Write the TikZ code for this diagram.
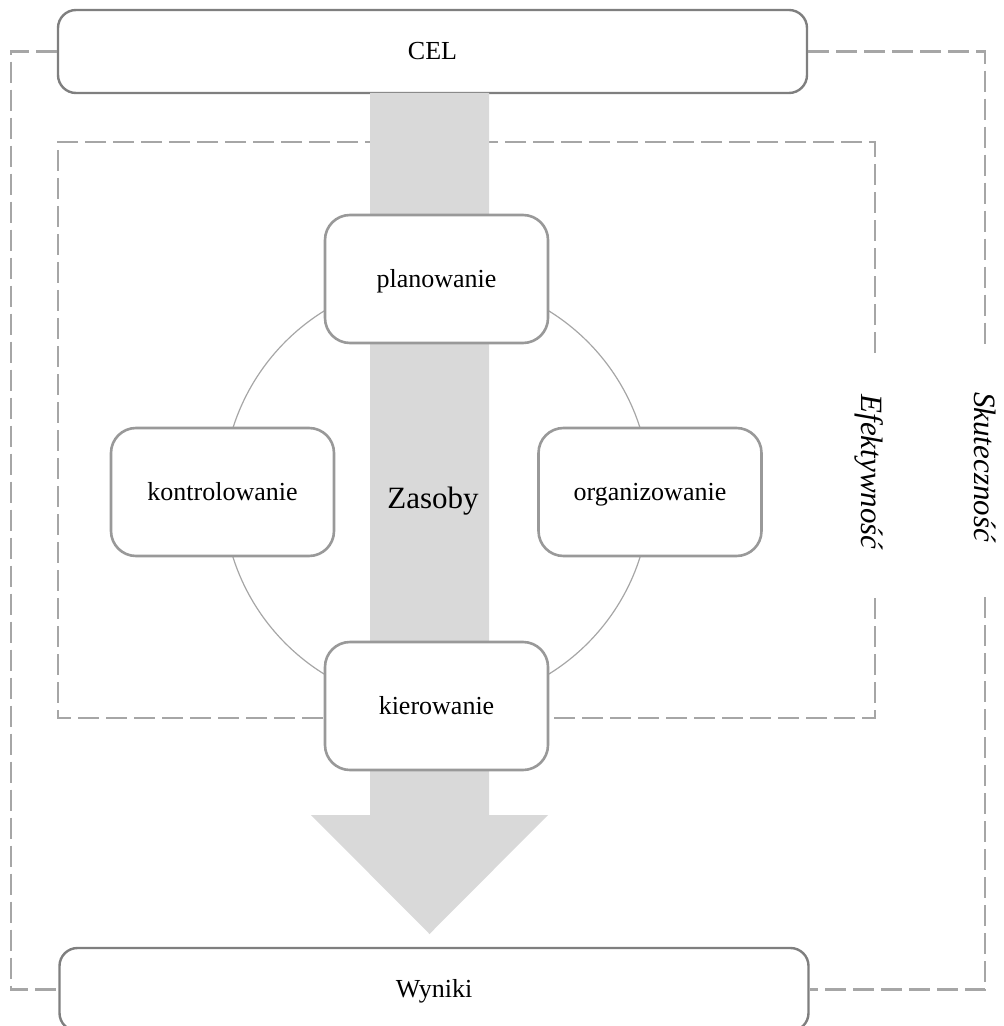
\documentclass[tikz,border=0pt]{standalone}
\usepackage{fontspec}
\setmainfont{Liberation Serif}
\definecolor{boxline}{HTML}{7F7F7F}
\definecolor{stageline}{HTML}{999999}
\definecolor{dashline}{HTML}{A6A6A6}
\definecolor{ringline}{HTML}{A6A6A6}
\definecolor{flowfill}{HTML}{D9D9D9}
\begin{document}
\begin{tikzpicture}[x=0.5pt,y=-0.5pt,
  endbox/.style={draw=boxline, line width=1.2pt, fill=white, rounded corners=9pt,
    minimum width=374.5pt, minimum height=41.5pt, inner sep=0pt,
    text height=8pt, text depth=0pt,
    font=\fontsize{13}{15}\selectfont},
  stagebox/.style={draw=stageline, line width=1.3pt, fill=white, rounded corners=12.5pt,
    minimum width=111.5pt, minimum height=64pt, inner sep=0pt,
    text height=8.8pt, text depth=0pt,
    font=\fontsize{13}{15}\selectfont},
  frame/.style={draw=dashline, line width=1.1pt, dash pattern=on 10.5pt off 3.5pt},
  sidelabel/.style={font=\itshape\fontsize{15.5}{18}\selectfont, rotate=-90, inner sep=0pt}
]
\useasboundingbox (0,0) rectangle (1003,1026);

% goal and results boxes
\node[endbox] (cel) at (432.5,51.5) {CEL};
\node[endbox] (wyniki) at (434,989.5) {Wyniki};

% outer frame (effectiveness of reaching the goal)
\coordinate (olt) at (11,51.5);
\coordinate (olb) at (11,989.5);
\coordinate (ort) at (985,51.5);
\coordinate (orm1) at (985,345);
\coordinate (orm2) at (985,597);
\coordinate (orb) at (985,989.5);
\draw[frame] (cel.west) -- (olt) -- (olb) -- (wyniki.west);
\draw[frame] (cel.east) -- (ort) -- (orm1);
\draw[frame] (orm2) -- (orb) -- (wyniki.east);

% inner frame (efficiency)
\coordinate (irt) at (875,142);
\coordinate (ilt) at (58,142);
\coordinate (ilb) at (58,718);
\coordinate (irb) at (875,718);
\draw[frame] (875,353) -- (irt) -- (ilt) -- (ilb) -- (irb) -- (875,595);

% management cycle ring
\coordinate (ring) at (436.5,492.5);
\draw[ringline, line width=0.6pt] (ring) circle[radius=213.5];

% resources flow arrow
\fill[flowfill] (370,93) -- (489,93) -- (489,815) -- (548,815) -- (429.5,934)
  -- (311,815) -- (370,815) -- cycle;
\node[font=\fontsize{15.5}{18}\selectfont, anchor=base] (zasoby) at (433,508) {Zasoby};

% management functions
\node[stagebox] (plan) at (436.5,279) {planowanie};
\node[stagebox] (kier) at (436.5,706) {kierowanie};
\node[stagebox] (kontr) at (222.5,492) {kontrolowanie};
\node[stagebox] (org) at (650,492) {organizowanie};

% side labels
\node[sidelabel] (efekt) at (869,472) {Efektywność};
\node[sidelabel] (skut) at (985,467) {Skuteczność};
\end{tikzpicture}
\end{document}
